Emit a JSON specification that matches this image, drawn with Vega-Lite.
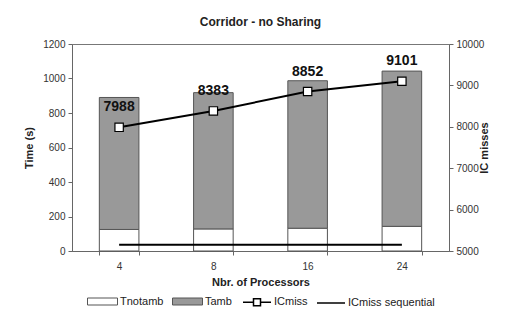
{
  "$schema": "https://vega.github.io/schema/vega-lite/v6.json",
  "width": 377,
  "height": 207,
  "autosize": {"type": "none"},
  "padding": {"left": 72, "top": 44, "right": 64, "bottom": 65},
  "background": "white",
  "title": {"text": "Corridor - no Sharing", "font": "Liberation Sans", "fontSize": 12, "fontWeight": "bold", "color": "#222", "offset": 10},
  "config": {
    "view": {"stroke": "#777", "strokeWidth": 1},
    "axis": {"labelFont": "Liberation Sans", "titleFont": "Liberation Sans", "labelFontSize": 10, "titleFontSize": 11, "labelColor": "#333", "titleColor": "#222", "domainColor": "#666", "tickColor": "#666", "grid": false, "tickSize": 4, "format": "d"},
    "legend": {"labelFont": "Liberation Sans", "labelFontSize": 11, "labelColor": "#222", "title": null, "direction": "horizontal", "symbolSize": 100, "columnPadding": 6, "labelOffset": 22, "symbolOpacity": 1}
  },
  "datasets": {
    "bars": [
      {"p": "4", "part": "Tnotamb", "t": 125},
      {"p": "4", "part": "Tamb", "t": 765},
      {"p": "8", "part": "Tnotamb", "t": 128},
      {"p": "8", "part": "Tamb", "t": 790},
      {"p": "16", "part": "Tnotamb", "t": 132},
      {"p": "16", "part": "Tamb", "t": 855},
      {"p": "24", "part": "Tnotamb", "t": 143},
      {"p": "24", "part": "Tamb", "t": 900}
    ],
    "ic": [
      {"p": "4", "series": "ICmiss", "v": 7988},
      {"p": "8", "series": "ICmiss", "v": 8383},
      {"p": "16", "series": "ICmiss", "v": 8852},
      {"p": "24", "series": "ICmiss", "v": 9101},
      {"p": "4", "series": "ICmiss sequential", "v": 5150},
      {"p": "8", "series": "ICmiss sequential", "v": 5150},
      {"p": "16", "series": "ICmiss sequential", "v": 5150},
      {"p": "24", "series": "ICmiss sequential", "v": 5150}
    ]
  },
  "encoding": {
    "x": {"field": "p", "type": "nominal", "sort": ["4", "8", "16", "24"],
      "scale": {"paddingInner": 0.58, "paddingOuter": 0.29},
      "axis": {"title": "Nbr. of Processors", "labelAngle": 0, "tickBand": "extent", "labelPadding": 6, "titlePadding": 5}}
  },
  "layer": [
    {
      "data": {"name": "bars"},
      "mark": {"type": "bar", "stroke": "#555", "strokeWidth": 1},
      "encoding": {
        "y": {"field": "t", "type": "quantitative", "stack": "zero",
          "scale": {"domain": [0, 1200]},
          "axis": {"title": "Time (s)", "values": [0, 200, 400, 600, 800, 1000, 1200], "labelPadding": 3, "titlePadding": 8}},
        "order": {"field": "part", "sort": "descending"},
        "fill": {"field": "part", "type": "nominal",
          "scale": {"domain": ["Tnotamb", "Tamb"], "range": ["white", "#999999"]},
          "legend": {
            "orient": "none", "legendX": 15, "legendY": 252,
            "symbolType": "M-1,-0.7H5V0.7H-1Z", "symbolStrokeColor": "#555", "symbolStrokeWidth": 1
          }}
      }
    },
    {
      "data": {"name": "ic"},
      "encoding": {
        "y": {"field": "v", "type": "quantitative"}
      },
      "layer": [
        {
          "mark": {"type": "line", "color": "black", "strokeWidth": 2},
          "encoding": {
            "detail": {"field": "series", "type": "nominal"},
            "y": {"field": "v", "type": "quantitative",
              "scale": {"domain": [5000, 10000]},
              "axis": {"orient": "right", "title": "IC misses", "titleAngle": 270, "values": [5000, 6000, 7000, 8000, 9000, 10000], "labelPadding": 3, "titlePadding": 6}}}
        },
        {
          "transform": [{"filter": "datum.series == 'ICmiss'"}],
          "mark": {"type": "point", "shape": "square", "filled": true, "fill": "white", "stroke": "black", "strokeWidth": 1.2, "size": 70, "opacity": 1},
          "encoding": {}
        },
        {
          "transform": [{"filter": "datum.series == 'ICmiss'"}],
          "mark": {"type": "text", "font": "Liberation Sans", "fontSize": 14, "fontWeight": "bold", "dy": -20, "color": "#111"},
          "encoding": {"text": {"field": "v", "type": "quantitative", "format": "d"}}
        },
        {
          "mark": {"type": "point", "opacity": 0, "filled": false},
          "encoding": {
            "shape": {"field": "series", "type": "nominal",
              "scale": {"domain": ["ICmiss", "ICmiss sequential"], "range": ["M-1,0H1.1M2.5,0H4.6M1.1,-0.7H2.5V0.7H1.1Z", "M-1,0H4.6"]},
              "legend": {"orient": "none", "legendX": 170, "legendY": 252, "symbolFillColor": "white", "symbolStrokeColor": "black", "symbolStrokeWidth": 1.5, "labelOffset": 20}},
            "stroke": {"field": "series", "type": "nominal",
              "scale": {"domain": ["ICmiss", "ICmiss sequential"], "range": ["black", "black"]}}
          }
        }
      ]
    }
  ],
  "resolve": {"scale": {"y": "independent"}}
}
